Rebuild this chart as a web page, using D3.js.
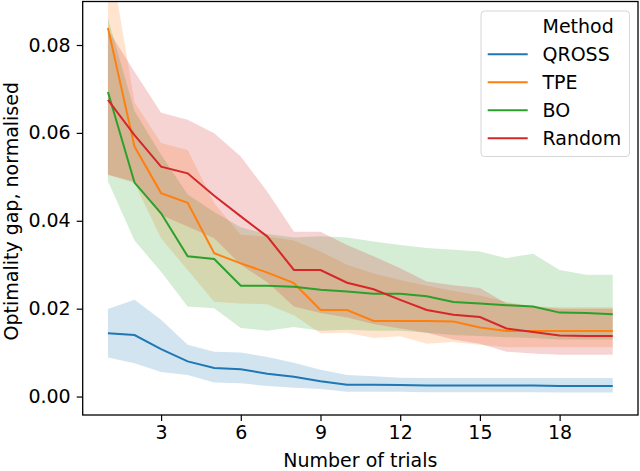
<!DOCTYPE html>
<html>
<head>
<meta charset="utf-8">
<script src="https://cdn.jsdelivr.net/npm/d3@7"></script>
<style>
  html, body { margin: 0; padding: 0; background: #fff; }
  svg { display: block; font-family: "DejaVu Sans", sans-serif; }
</style>
</head>
<body>
<svg id="chart" width="640" height="471"></svg>
<script>
// data
const trials = [1, 2, 3, 4, 5, 6, 7, 8, 9, 10, 11, 12, 13, 14, 15, 16, 17, 18, 19, 20];

const qrossMean = [0.0144, 0.0140, 0.0108, 0.0080, 0.0065, 0.0062, 0.0052, 0.0045, 0.0035, 0.0027, 0.0027, 0.0026, 0.0025, 0.0025, 0.0025, 0.0025, 0.0025, 0.0024, 0.0024, 0.0024];
const qrossLo   = [0.0089, 0.0076, 0.0056, 0.0049, 0.0032, 0.0030, 0.0024, 0.0020, 0.0017, 0.0011, 0.0011, 0.0011, 0.0010, 0.0010, 0.0010, 0.0010, 0.0010, 0.0009, 0.0009, 0.0009];
const qrossHi   = [0.0199, 0.0220, 0.0175, 0.0118, 0.0102, 0.0100, 0.0090, 0.0077, 0.0061, 0.0049, 0.0046, 0.0043, 0.0042, 0.0042, 0.0042, 0.0042, 0.0042, 0.0042, 0.0042, 0.0042];

const tpeMean = [0.0839, 0.0569, 0.0463, 0.0441, 0.0326, 0.0303, 0.0282, 0.0258, 0.0197, 0.0197, 0.0172, 0.0172, 0.0172, 0.0171, 0.0157, 0.0149, 0.0149, 0.0149, 0.0149, 0.0149];
const tpeLo   = [0.0505, 0.0486, 0.0360, 0.0288, 0.0216, 0.0212, 0.0210, 0.0185, 0.0144, 0.0145, 0.0133, 0.0137, 0.0120, 0.0124, 0.0118, 0.0112, 0.0112, 0.0112, 0.0112, 0.0112];
const tpeHi   = [0.1030, 0.0670, 0.0577, 0.0561, 0.0440, 0.0368, 0.0364, 0.0355, 0.0330, 0.0300, 0.0280, 0.0265, 0.0252, 0.0240, 0.0230, 0.0215, 0.0205, 0.0203, 0.0203, 0.0203];

const boMean = [0.0693, 0.0487, 0.0417, 0.0319, 0.0313, 0.0252, 0.0252, 0.0250, 0.0243, 0.0239, 0.0234, 0.0234, 0.0228, 0.0215, 0.0212, 0.0208, 0.0205, 0.0191, 0.0190, 0.0187];
const boLo   = [0.0490, 0.0355, 0.0284, 0.0205, 0.0201, 0.0156, 0.0150, 0.0158, 0.0150, 0.0152, 0.0150, 0.0150, 0.0145, 0.0140, 0.0138, 0.0135, 0.0133, 0.0130, 0.0130, 0.0130];
const boHi   = [0.0861, 0.0650, 0.0550, 0.0460, 0.0420, 0.0385, 0.0370, 0.0362, 0.0365, 0.0362, 0.0353, 0.0345, 0.0338, 0.0334, 0.0330, 0.0315, 0.0325, 0.0288, 0.0277, 0.0277];

const randomMean = [0.0675, 0.0595, 0.0523, 0.0508, 0.0457, 0.0410, 0.0364, 0.0288, 0.0288, 0.0259, 0.0244, 0.0220, 0.0197, 0.0186, 0.0181, 0.0155, 0.0147, 0.0139, 0.0138, 0.0138];
const randomLo   = [0.0505, 0.0489, 0.0413, 0.0387, 0.0360, 0.0300, 0.0260, 0.0205, 0.0190, 0.0180, 0.0165, 0.0155, 0.0145, 0.0130, 0.0120, 0.0102, 0.0098, 0.0095, 0.0095, 0.0095];
const randomHi   = [0.0835, 0.0739, 0.0646, 0.0630, 0.0599, 0.0546, 0.0466, 0.0375, 0.0375, 0.0345, 0.0319, 0.0292, 0.0262, 0.0253, 0.0247, 0.0212, 0.0205, 0.0200, 0.0200, 0.0200];

const methods = ['QROSS', 'TPE', 'BO', 'Random'];
const colors = ['#1f77b4', '#ff7f0e', '#2ca02c', '#d62728'];
const xTicks = [3, 6, 9, 12, 15, 18];
const yTicks = [0.00, 0.02, 0.04, 0.06, 0.08];

const series = [
  { name: methods[0], color: colors[0], mean: qrossMean, lo: qrossLo, hi: qrossHi },
  { name: methods[1], color: colors[1], mean: tpeMean, lo: tpeLo, hi: tpeHi },
  { name: methods[2], color: colors[2], mean: boMean, lo: boLo, hi: boHi },
  { name: methods[3], color: colors[3], mean: randomMean, lo: randomLo, hi: randomHi }
];

const margin = { top: 1.5, right: 2, bottom: 56, left: 82.7 };
const W = 640, H = 471;
const width = W - margin.left - margin.right;
const height = H - margin.top - margin.bottom;

const svg = d3.select('#chart');
const g = svg.append('g').attr('transform', `translate(${margin.left},${margin.top})`);

const x = d3.scaleLinear().domain([0.05, 20.95]).range([0, width]);
const y = d3.scaleLinear().domain([-0.0042, 0.0899]).range([height, 0]);

g.append('clipPath').attr('id', 'plot-clip')
  .append('rect').attr('width', width).attr('height', height);

const plot = g.append('g').attr('clip-path', 'url(#plot-clip)');

// bands
const area = d3.area()
  .x((d, i) => x(trials[i]))
  .y0(d => y(d[0]))
  .y1(d => y(d[1]));

series.forEach(s => {
  plot.append('path')
    .datum(s.lo.map((v, i) => [v, s.hi[i]]))
    .attr('d', area)
    .attr('fill', s.color)
    .attr('fill-opacity', 0.2)
    .attr('stroke', 'none');
});

// mean lines
const line = d3.line()
  .x((d, i) => x(trials[i]))
  .y(d => y(d));

series.forEach(s => {
  plot.append('path')
    .datum(s.mean)
    .attr('d', line)
    .attr('fill', 'none')
    .attr('stroke', s.color)
    .attr('stroke-width', 2);
});

// axes
const xAxis = g.append('g')
  .attr('transform', `translate(0,${height})`)
  .call(d3.axisBottom(x).tickValues(xTicks).tickSize(6).tickPadding(5).tickSizeOuter(0));

const yAxis = g.append('g')
  .call(d3.axisLeft(y).tickValues(yTicks).tickFormat(d3.format('.2f')).tickSize(6).tickPadding(6).tickSizeOuter(0));

[xAxis, yAxis].forEach(a => {
  a.select('.domain').remove();
  a.selectAll('.tick line').attr('stroke', '#000').attr('stroke-width', 1.2);
  a.selectAll('.tick text')
    .attr('fill', '#000')
    .style('font-size', '19px')
    .style('font-family', '"DejaVu Sans", sans-serif');
});

// frame
g.append('rect')
  .attr('width', width)
  .attr('height', height)
  .attr('fill', 'none')
  .attr('stroke', '#000')
  .attr('stroke-width', 1.3);

// axis labels
svg.append('text')
  .attr('x', margin.left + width / 2)
  .attr('y', 467)
  .attr('text-anchor', 'middle')
  .style('font-size', '19px')
  .text('Number of trials');

svg.append('text')
  .attr('transform', `translate(17.5,${margin.top + height / 2 + 3}) rotate(-90)`)
  .attr('text-anchor', 'middle')
  .style('font-size', '19px')
  .text('Optimality gap, normalised');

// legend
const legend = svg.append('g').attr('transform', 'translate(481,11)');
legend.append('rect')
  .attr('width', 148.5)
  .attr('height', 145.5)
  .attr('rx', 3.5)
  .attr('fill', '#fff')
  .attr('fill-opacity', 0.8)
  .attr('stroke', '#d6d6d6')
  .attr('stroke-width', 1);

legend.append('text')
  .attr('x', 61.5)
  .attr('y', 22)
  .style('font-size', '19px')
  .text('Method');

series.forEach((s, i) => {
  const cy = 43.3 + i * 28;
  legend.append('line')
    .attr('x1', 6.7).attr('x2', 46.7)
    .attr('y1', cy).attr('y2', cy)
    .attr('stroke', s.color)
    .attr('stroke-width', 2);
  legend.append('text')
    .attr('x', 61.5)
    .attr('y', cy + 7)
    .style('font-size', '19px')
    .text(s.name);
});
</script>
</body>
</html>
